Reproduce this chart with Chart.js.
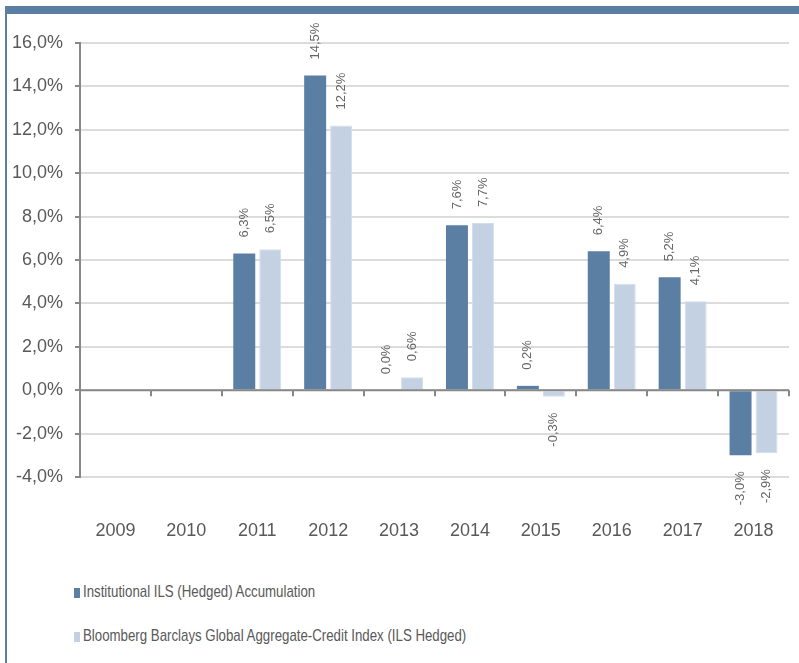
<!DOCTYPE html>
<html>
<head>
<meta charset="utf-8">
<script src="https://cdn.jsdelivr.net/npm/chart.js@4.4.1/dist/chart.umd.min.js"></script>
<style>
  html, body { margin: 0; padding: 0; background: #fff; }
  body { width: 799px; height: 663px; position: relative; overflow: hidden; }
  .frame-top { position: absolute; left: 5px; top: 6px; width: 794px; height: 8px; background: #5b7fa3; }
  .frame-left { position: absolute; left: 5px; top: 6px; width: 2px; height: 657px; background: #5b7fa3; }
  #chart { position: absolute; left: 8px; top: 14px; }
  #legend { position: absolute; left: 74px; top: 581px; font-family: "Liberation Sans", Arial, sans-serif; font-size: 17px; color: #595959; }
  #legend .item { height: 44px; line-height: 22px; white-space: nowrap; }
  #legend .box { display: inline-block; width: 6px; height: 10px; vertical-align: -1px; margin-right: 3px; }
  #legend .txt { display: inline-block; transform: scaleX(0.78); transform-origin: left center; }
</style>
</head>
<body>
<div class="frame-top"></div>
<div class="frame-left"></div>
<canvas id="chart" width="791" height="560"></canvas>
<div id="legend"></div>
<script>
"use strict";

const years = ["2009", "2010", "2011", "2012", "2013", "2014", "2015", "2016", "2017", "2018"];
const fundReturns = [null, null, 6.3, 14.5, 0.0, 7.6, 0.2, 6.4, 5.2, -3.0];
const indexReturns = [null, null, 6.5, 12.2, 0.6, 7.7, -0.3, 4.9, 4.1, -2.9];
const seriesNames = [
  "Institutional ILS (Hedged) Accumulation",
  "Bloomberg Barclays Global Aggregate-Credit Index (ILS Hedged)",
];
const yMin = -4;
const yMax = 16;
const yStep = 2;

const darkBlue = "#5b7fa3";
const lightBlue = "#c4d1e3";
const textGray = "#595959";
const axisGray = "#888888";

function pct(v) {
  return v.toFixed(1).replace(".", ",") + "%";
}

// value labels, rotated, above positive bars and below negative ones
const barLabels = {
  id: "barLabels",
  afterDatasetsDraw(chart) {
    const ctx = chart.ctx;
    ctx.save();
    ctx.font = "13px 'Liberation Sans', Arial, sans-serif";
    ctx.fillStyle = "#666666";
    ctx.textBaseline = "middle";
    chart.data.datasets.forEach((ds, di) => {
      const meta = chart.getDatasetMeta(di);
      meta.data.forEach((bar, i) => {
        const v = ds.data[i];
        if (v === null || v === undefined) return;
        ctx.save();
        if (v >= 0) {
          ctx.translate(bar.x, bar.y - 16);
          ctx.rotate(-Math.PI / 2);
          ctx.textAlign = "left";
        } else {
          ctx.translate(bar.x, bar.y + 16);
          ctx.rotate(-Math.PI / 2);
          ctx.textAlign = "right";
        }
        ctx.fillText(pct(v), 0, 0);
        ctx.restore();
      });
    });
    ctx.restore();
  },
};

// zero line with small tick marks between categories
const zeroAxis = {
  id: "zeroAxis",
  afterDatasetsDraw(chart) {
    const ctx = chart.ctx;
    const x = chart.scales.x;
    const y0 = chart.scales.y.getPixelForValue(0);
    ctx.save();
    ctx.strokeStyle = axisGray;
    ctx.lineWidth = 2;
    ctx.beginPath();
    ctx.moveTo(chart.chartArea.left, y0);
    ctx.lineTo(chart.chartArea.right, y0);
    for (let i = 0; i <= years.length; i++) {
      const px = Math.round(x.getPixelForValue(i - 0.5));
      ctx.moveTo(px, y0);
      ctx.lineTo(px, y0 + 6);
    }
    ctx.stroke();
    ctx.restore();
  },
};

const chart = new Chart(document.getElementById("chart"), {
  type: "bar",
  data: {
    labels: years,
    datasets: [
      {
        label: seriesNames[0],
        data: fundReturns,
        backgroundColor: darkBlue,
        categoryPercentage: 0.733,
        barPercentage: 0.846,
      },
      {
        label: seriesNames[1],
        data: indexReturns,
        backgroundColor: lightBlue,
        borderColor: "#d3ddea",
        borderWidth: 1,
        categoryPercentage: 0.733,
        barPercentage: 0.846,
      },
    ],
  },
  options: {
    responsive: false,
    animation: false,
    devicePixelRatio: 1,
    layout: {
      padding: { top: 29, right: 10, bottom: 13, left: 0 },
    },
    plugins: {
      legend: { display: false },
      tooltip: { enabled: false },
    },
    scales: {
      x: {
        afterFit: (scale) => {
          scale.height = 84;
          scale.paddingLeft = 0;
          scale.paddingRight = 0;
        },
        grid: { display: false },
        border: { display: false },
        ticks: {
          color: textGray,
          padding: 35,
          maxRotation: 0,
          font: { size: 18, family: "'Liberation Sans', Arial, sans-serif" },
        },
      },
      y: {
        min: yMin,
        max: yMax,
        afterFit: (scale) => {
          scale.width = 72;
          scale.paddingTop = 0;
          scale.paddingBottom = 0;
        },
        grid: {
          color: "#dcdcdc",
          lineWidth: 2,
          tickLength: 5,
          tickColor: axisGray,
        },
        border: { display: true, color: axisGray, width: 2 },
        ticks: {
          stepSize: yStep,
          color: textGray,
          padding: 12,
          font: { size: 18, family: "'Liberation Sans', Arial, sans-serif" },
          callback: (v) => pct(v),
        },
      },
    },
  },
  plugins: [barLabels, zeroAxis],
});

const legendEl = document.getElementById("legend");
chart.data.datasets.forEach((ds) => {
  const item = document.createElement("div");
  item.className = "item";
  const box = document.createElement("span");
  box.className = "box";
  box.style.background = ds.backgroundColor;
  const txt = document.createElement("span");
  txt.className = "txt";
  txt.textContent = ds.label;
  item.appendChild(box);
  item.appendChild(txt);
  legendEl.appendChild(item);
});
</script>
</body>
</html>
